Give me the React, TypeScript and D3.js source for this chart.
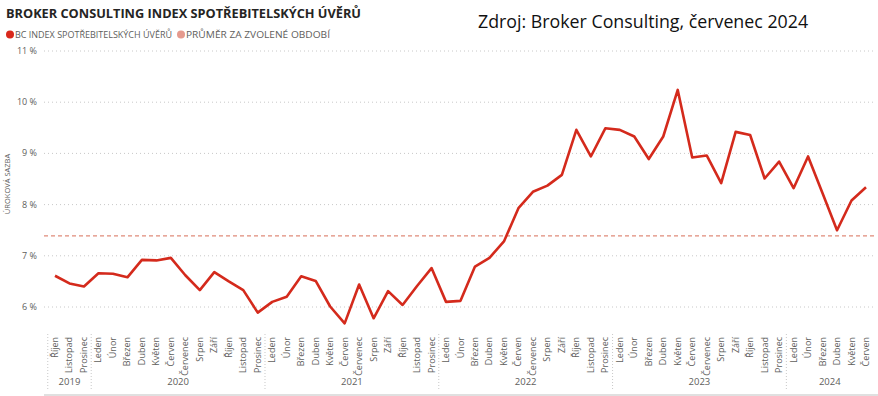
import * as d3 from 'd3';

const months = ['Leden', 'Únor', 'Březen', 'Duben', 'Květen', 'Červen', 'Červenec', 'Srpen', 'Září', 'Říjen', 'Listopad', 'Prosinec'];

// year, first month index, number of months
const years: [number, number, number][] = [
  [2019, 9, 3],
  [2020, 0, 12],
  [2021, 0, 12],
  [2022, 0, 12],
  [2023, 0, 12],
  [2024, 0, 6],
];

const rate = [
  6.61, 6.46, 6.4,
  6.66, 6.65, 6.58, 6.92, 6.91, 6.96, 6.62, 6.33, 6.68, 6.5, 6.33, 5.89,
  6.1, 6.2, 6.6, 6.51, 6.01, 5.68, 6.44, 5.78, 6.31, 6.04, 6.41, 6.76,
  6.1, 6.12, 6.79, 6.96, 7.28, 7.93, 8.25, 8.37, 8.58, 9.46, 8.94, 9.49,
  9.46, 9.33, 8.89, 9.33, 10.24, 8.92, 8.96, 8.42, 9.42, 9.36, 8.51, 8.84,
  8.32, 8.94, 8.22, 7.5, 8.08, 8.34,
];

const average = 7.39;
const yTicks = [6, 7, 8, 9, 10, 11];

const width = 878;
const height = 396;
const font = '"Segoe UI", "Open Sans", sans-serif';

const labels: { month: string; year: number }[] = [];
years.forEach(([y, start, n]) => {
  for (let i = 0; i < n; i++) labels.push({ month: months[start + i], year: y });
});

export default function App() {
  const x = d3.scaleLinear([0, rate.length - 1], [55, 866]);
  const y = d3.scaleLinear([6, 11], [307, 51]);
  const step = x(1) - x(0);
  const line = d3.line<number>((d, i) => x(i), (d) => y(d));

  let offset = 0;
  const yearBlocks = years.map(([yr, , n]) => {
    const b = { yr, x0: x(offset) - step / 2, x1: x(offset + n - 1) + step / 2 };
    offset += n;
    return b;
  });

  return (
    <svg width={width} height={height} style={{ position: 'absolute', left: 0, top: 0, fontFamily: font }}>
      <rect width={width} height={height} fill="#fff" />
      <text x={6} y={18} fontSize={13} fontWeight="bold" fill="#252423" textLength={355} lengthAdjust="spacingAndGlyphs">
        BROKER CONSULTING INDEX SPOTŘEBITELSKÝCH ÚVĚRŮ
      </text>
      <circle cx={10} cy={34.5} r={4} fill="#D9281B" />
      <text x={15} y={38} fontSize={9.5} fill="#605E5C" textLength={157} lengthAdjust="spacingAndGlyphs">BC INDEX SPOTŘEBITELSKÝCH ÚVĚRŮ</text>
      <circle cx={181} cy={34.5} r={4} fill="#E59A8E" />
      <text x={186} y={38} fontSize={9.5} fill="#605E5C" textLength={144} lengthAdjust="spacingAndGlyphs">PRŮMĚR ZA ZVOLENÉ OBDOBÍ</text>
      <text x={478} y={28} fontSize={17.8} fill="#111" fontFamily='"Open Sans", sans-serif'>
        Zdroj: Broker Consulting, červenec 2024
      </text>

      {yTicks.map((t) => (
        <g key={t}>
          <line x1={44} x2={876} y1={y(t)} y2={y(t)} stroke="#c8c8c8" strokeDasharray="1,3" />
          <text x={37} y={y(t) + 3} fontSize={9} fill="#605E5C" textAnchor="end">
            {t} %
          </text>
        </g>
      ))}
      <text transform={`translate(10,${(y(6) + y(11)) / 2 + 5}) rotate(-90)`} fontSize={7.5} fill="#605E5C" textAnchor="middle">
        ÚROKOVÁ SAZBA
      </text>

      <line x1={44} x2={876} y1={y(average)} y2={y(average)} stroke="#E08B7A" strokeWidth={1.3} strokeDasharray="4,3" />
      <path d={line(rate) ?? ''} fill="none" stroke="#D42A1C" strokeWidth={2.6} strokeLinejoin="round" />

      {labels.map((l, i) => (
        <text key={i} transform={`translate(${x(i) + 3},337) rotate(-90)`} fontSize={9} fill="#605E5C" textAnchor="end">
          {l.month}
        </text>
      ))}
      {yearBlocks.map((b) => (
        <g key={b.yr}>
          <line x1={b.x0} x2={b.x0} y1={334} y2={390} stroke="#c8c8c8" strokeDasharray="1,2" />
          <text x={(b.x0 + b.x1) / 2} y={385} fontSize={9.5} fill="#605E5C" textAnchor="middle">
            {b.yr}
          </text>
        </g>
      ))}
      <rect x={44} y={394} width={834} height={2} fill="#e0e0e0" />
    </svg>
  );
}
